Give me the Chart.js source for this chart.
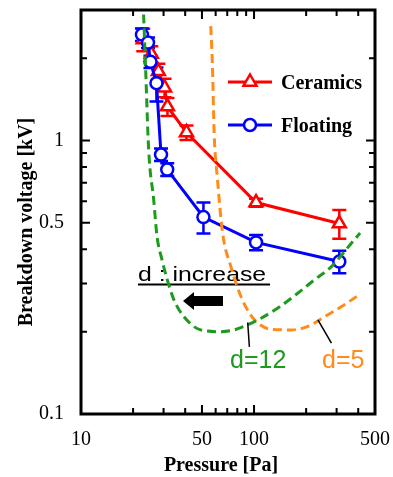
<!DOCTYPE html>
<html lang="en">
<head>
  <meta charset="UTF-8">
  <title>Breakdown voltage vs pressure</title>
  <script src="https://cdn.jsdelivr.net/npm/chart.js"></script>
  <style>
    body { margin: 0; background: #fff; }
  </style>
</head>
<body>
  <canvas id="chart" width="393" height="477"></canvas>

  <script>
    // values
    const ceramicsP = [22.9, 25.5, 28.0, 30.4, 31.6, 40.7, 102.7, 311];
    const ceramicsV = [2.34, 2.07, 1.79, 1.56, 1.33, 1.07, 0.593, 0.497];
    const ceramicsErr = [0.22, 0.14, 0.12, 0.12, 0.10, 0.065, 0.02, 0.06];

    const floatingP = [22.5, 24.4, 25.2, 27.3, 29.0, 31.5, 51.0, 102.7, 311];
    const floatingV = [2.44, 2.28, 1.94, 1.62, 0.888, 0.783, 0.525, 0.424, 0.361];
    const floatingErr = [0.13, 0.10, 0.10, 0.23, 0.046, 0.042, 0.068, 0.027, 0.034];

    const d12P = [23.0, 23.6, 24.6, 26.3, 27.5, 29.4, 31.5, 34.4, 39.3, 49.2, 64.3, 76.8, 91.9, 109.8, 137.3, 179.5, 224, 280, 366, 410];
    const d12V = [2.89, 1.87, 0.927, 0.608, 0.446, 0.366, 0.310, 0.262, 0.227, 0.203, 0.200, 0.203, 0.212, 0.224, 0.244, 0.277, 0.310, 0.346, 0.422, 0.459];

    const d5P = [56.2, 57.5, 58.8, 61.5, 65.8, 73.5, 84.0, 93.9, 105, 125.6, 164, 205, 256, 320, 392];
    const d5V = [2.62, 1.87, 1.067, 0.720, 0.459, 0.346, 0.269, 0.234, 0.215, 0.204, 0.203, 0.209, 0.227, 0.247, 0.269];

    const xTicks = [10, 20, 30, 40, 50, 60, 70, 80, 90, 100, 200, 300, 400, 500];
    const xLabels = [10, 50, 100, 500];
    const yTicks = [0.1, 0.2, 0.3, 0.4, 0.5, 0.6, 0.7, 0.8, 0.9, 1, 2, 3];
    const yLabels = [0.1, 0.5, 1];

    const RED = '#ff0000', BLUE = '#0000ff', GREEN = '#1e9b1e', ORANGE = '#ff8c1a';
    const SERIF = '"Liberation Serif", "Times New Roman", serif';
    const SANS = '"Liberation Sans", Arial, sans-serif';

    const pts = (xs, ys) => xs.map((x, i) => ({ x: x, y: ys[i] }));

    const errorSeries = [
      { p: ceramicsP, v: ceramicsV, e: ceramicsErr, color: RED },
      { p: floatingP, v: floatingV, e: floatingErr, color: BLUE }
    ];

    const decor = {
      id: 'decor',
      beforeDatasetsDraw(chart) {
        const ctx = chart.ctx, x = chart.scales.x, y = chart.scales.y;
        ctx.save();
        // "d : increase" with underline and arrow
        ctx.fillStyle = '#000';
        ctx.save();
        ctx.translate(138, 281);
        ctx.scale(1.18, 1);
        ctx.font = '21px ' + SANS;
        ctx.fillText('d : increase', 0, 0);
        ctx.restore();
        ctx.fillRect(138, 283.5, 132, 2);
        ctx.beginPath();
        ctx.moveTo(183, 301);
        ctx.lineTo(194, 292);
        ctx.lineTo(194, 296);
        ctx.lineTo(223, 296);
        ctx.lineTo(223, 306);
        ctx.lineTo(194, 306);
        ctx.lineTo(194, 310);
        ctx.closePath();
        ctx.fill();

        // error bars
        ctx.lineWidth = 2.5;
        errorSeries.forEach(s => {
          ctx.strokeStyle = s.color;
          s.p.forEach((p, i) => {
            const px = x.getPixelForValue(p);
            const top = y.getPixelForValue(s.v[i] + s.e[i]);
            const bot = y.getPixelForValue(s.v[i] - s.e[i]);
            ctx.beginPath();
            ctx.moveTo(px, top); ctx.lineTo(px, bot);
            ctx.moveTo(px - 7, top); ctx.lineTo(px + 7, top);
            ctx.moveTo(px - 7, bot); ctx.lineTo(px + 7, bot);
            ctx.stroke();
          });
        });
        ctx.restore();
      },
      afterDraw(chart) {
        const ctx = chart.ctx, a = chart.chartArea;
        const x = chart.scales.x, y = chart.scales.y;
        ctx.save();

        // frame
        ctx.strokeStyle = '#000';
        ctx.lineWidth = 3;
        ctx.strokeRect(a.left, a.top, a.right - a.left, a.bottom - a.top);

        // inward ticks on all four sides
        ctx.lineWidth = 2;
        ctx.beginPath();
        xTicks.forEach(v => {
          const px = x.getPixelForValue(v);
          if (px <= a.left + 1 || px >= a.right - 1) return;
          const len = xLabels.includes(v) ? 9 : 6;
          ctx.moveTo(px, a.bottom); ctx.lineTo(px, a.bottom - len);
          ctx.moveTo(px, a.top); ctx.lineTo(px, a.top + len);
        });
        yTicks.forEach(v => {
          const py = y.getPixelForValue(v);
          if (py <= a.top + 1 || py >= a.bottom - 1) return;
          const len = yLabels.includes(v) ? 9 : 6;
          ctx.moveTo(a.left, py); ctx.lineTo(a.left + len, py);
          ctx.moveTo(a.right, py); ctx.lineTo(a.right - len, py);
        });
        ctx.stroke();

        // axis titles
        ctx.fillStyle = '#000';
        ctx.font = 'bold 20px ' + SERIF;
        ctx.textAlign = 'center';
        ctx.fillText('Pressure [Pa]', 221, 471);
        ctx.save();
        ctx.translate(32, 222);
        ctx.rotate(-Math.PI / 2);
        ctx.fillText('Breakdown voltage [kV]', 0, 0);
        ctx.restore();

        // legend
        ctx.textAlign = 'left';
        ctx.lineWidth = 3;
        [[RED, 'Ceramics', 82, 'tri'], [BLUE, 'Floating', 125, 'circ']].forEach(l => {
          ctx.strokeStyle = l[0];
          ctx.beginPath();
          ctx.moveTo(228, l[2]); ctx.lineTo(272, l[2]);
          ctx.stroke();
          ctx.fillStyle = '#fff';
          ctx.lineWidth = 2.5;
          ctx.beginPath();
          if (l[3] === 'tri') {
            const r = 7.5;
            ctx.moveTo(250, l[2] - r);
            ctx.lineTo(250 + r * 0.866, l[2] + r / 2);
            ctx.lineTo(250 - r * 0.866, l[2] + r / 2);
            ctx.closePath();
          } else {
            ctx.arc(250, l[2], 6, 0, Math.PI * 2);
          }
          ctx.fill();
          ctx.stroke();
          ctx.lineWidth = 3;
          ctx.fillStyle = '#000';
          ctx.font = 'bold 20px ' + SERIF;
          ctx.fillText(l[1], 281, l[2] + 7);
        });

        // curve labels and leader lines
        ctx.font = '25px ' + SANS;
        ctx.fillStyle = GREEN;
        ctx.fillText('d=12', 230, 368);
        ctx.fillStyle = ORANGE;
        ctx.fillText('d=5', 322, 368);
        ctx.strokeStyle = '#000';
        ctx.lineWidth = 1.5;
        ctx.beginPath();
        ctx.moveTo(x.getPixelForValue(91.9), y.getPixelForValue(0.216));
        ctx.lineTo(x.getPixelForValue(94), y.getPixelForValue(0.176));
        ctx.moveTo(x.getPixelForValue(234), y.getPixelForValue(0.221));
        ctx.lineTo(x.getPixelForValue(280), y.getPixelForValue(0.1815));
        ctx.stroke();

        ctx.restore();
      }
    };

    new Chart(document.getElementById('chart'), {
      type: 'line',
      data: {
        datasets: [
          {
            label: 'd=12', data: pts(d12P, d12V), borderColor: GREEN, borderWidth: 3,
            borderDash: [9, 5], pointRadius: 0, cubicInterpolationMode: 'monotone', fill: false
          },
          {
            label: 'd=5', data: pts(d5P, d5V), borderColor: ORANGE, borderWidth: 3,
            borderDash: [9, 5], pointRadius: 0, cubicInterpolationMode: 'monotone', fill: false
          },
          {
            label: 'Floating', data: pts(floatingP, floatingV), borderColor: BLUE, borderWidth: 3,
            pointStyle: 'circle', pointRadius: 6, pointBorderWidth: 2.5,
            pointBackgroundColor: '#fff', pointBorderColor: BLUE, tension: 0
          },
          {
            label: 'Ceramics', data: pts(ceramicsP, ceramicsV), borderColor: RED, borderWidth: 3,
            pointStyle: 'triangle', pointRadius: 7.5, pointBorderWidth: 2.5,
            pointBackgroundColor: '#fff', pointBorderColor: RED, tension: 0
          }
        ]
      },
      options: {
        responsive: false,
        animation: false,
        layout: { padding: { left: 0, right: 18, top: 9, bottom: 0 } },
        plugins: { legend: { display: false }, tooltip: { enabled: false } },
        scales: {
          x: {
            type: 'logarithmic', min: 10, max: 500,
            afterBuildTicks: s => { s.ticks = xTicks.map(v => ({ value: v })); },
            afterFit: s => { s.height = 63; s.paddingLeft = 0; s.paddingRight = 0; },
            grid: { display: false },
            border: { display: false },
            ticks: {
              autoSkip: false, maxRotation: 0, padding: 6,
              color: '#000', font: { family: SERIF, size: 20 },
              callback: v => xLabels.includes(v) ? String(v) : ''
            }
          },
          y: {
            type: 'logarithmic', min: 0.1, max: 3,
            afterBuildTicks: s => { s.ticks = yTicks.map(v => ({ value: v })); },
            afterFit: s => { s.width = 81; s.paddingTop = 0; s.paddingBottom = 0; },
            grid: { display: false },
            border: { display: false },
            ticks: {
              autoSkip: false, padding: 9,
              color: '#000', font: { family: SERIF, size: 20 },
              callback: v => yLabels.includes(v) ? String(v) : ''
            }
          }
        }
      },
      plugins: [decor]
    });
  </script>
</body>
</html>
